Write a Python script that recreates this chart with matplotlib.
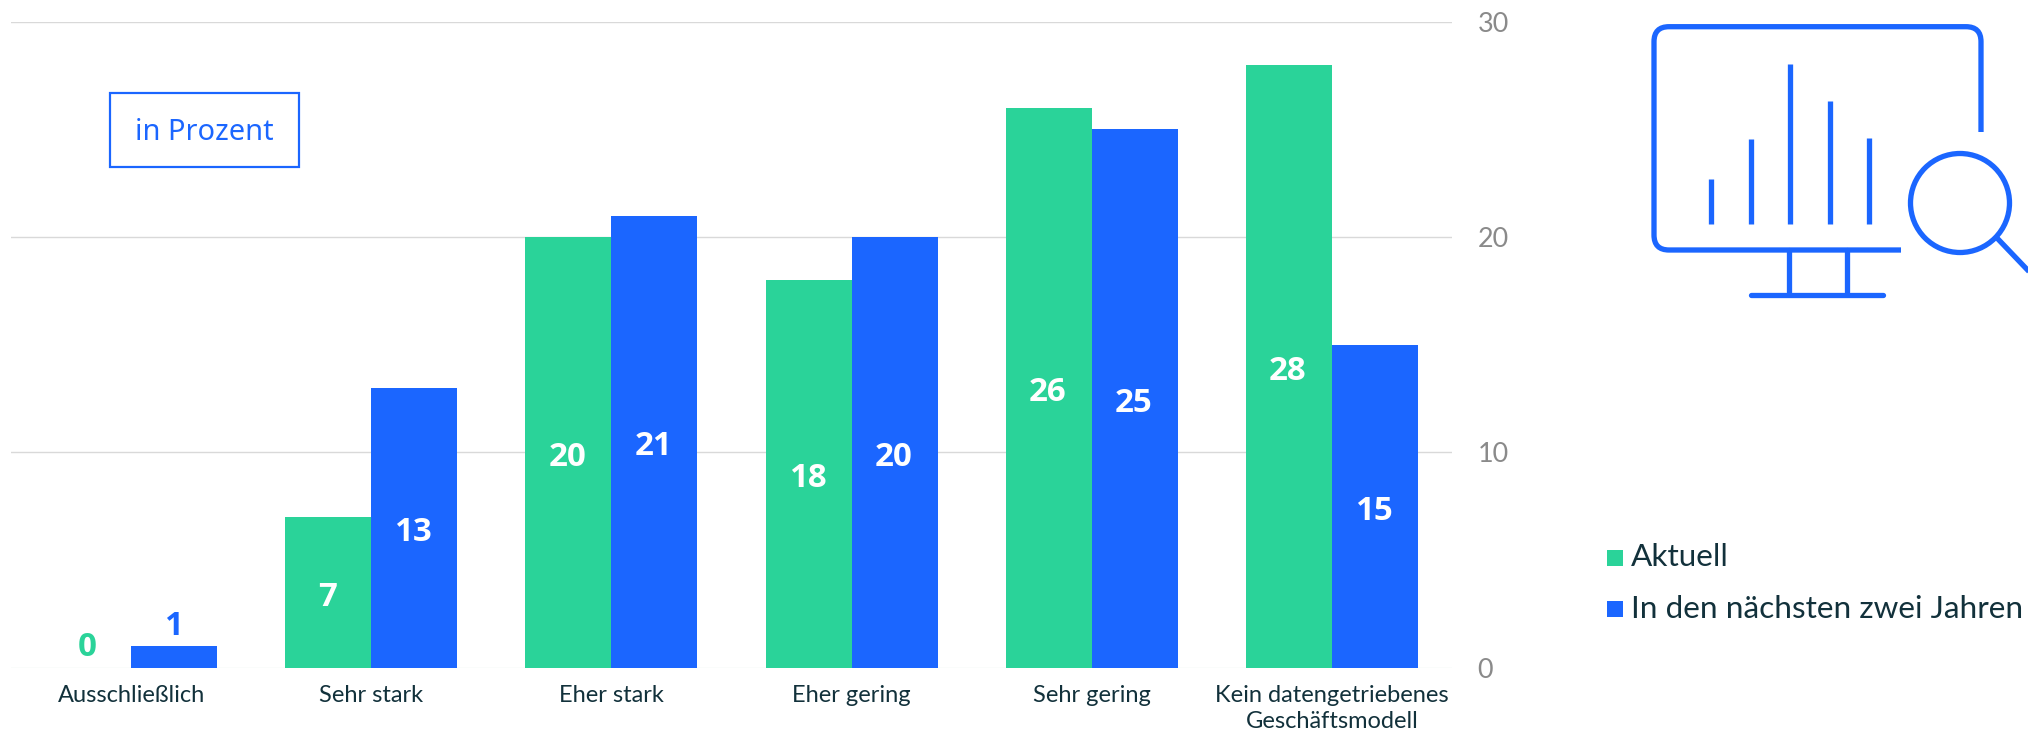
import matplotlib
matplotlib.use("Agg")
import matplotlib.pyplot as plt
from matplotlib.patches import Rectangle, Circle
from matplotlib.path import Path
from matplotlib.patches import PathPatch

categories = ["Ausschließlich", "Sehr stark", "Eher stark", "Eher gering", "Sehr gering",
              "Kein datengetriebenes\nGeschäftsmodell"]
aktuell = [0, 7, 20, 18, 26, 28]
naechste = [1, 13, 21, 20, 25, 15]
series_names = ["Aktuell", "In den nächsten zwei Jahren"]
yticks = [0, 10, 20, 30]

GREEN = "#2AD399"
BLUE = "#1B66FF"
DARK = "#12313B"
GREY = "#8A8A8A"
FONT = "Lato"
W, H = 2028, 731
px = 72 / 100  # points per pixel

plt.rcParams["font.family"] = [FONT, "DejaVu Sans"]
fig = plt.figure(figsize=(W / 100, H / 100), dpi=100, facecolor="white")

# overlay in pixel coordinates for the decorations
ov = fig.add_axes([0, 0, 1, 1], zorder=3)
ov.set_xlim(0, W)
ov.set_ylim(H, 0)
ov.axis("off")
ov.patch.set_alpha(0)

ax = fig.add_axes([11 / W, (H - 667.8) / H, (1452 - 11) / W, (667.8 - 21.8) / H], zorder=2)
ax.patch.set_alpha(0)
x = list(range(len(categories)))
bw = 0.358
ax.bar([i - bw / 2 for i in x], aktuell, bw, color=GREEN, zorder=3)
ax.bar([i + bw / 2 for i in x], naechste, bw, color=BLUE, zorder=3)
ax.set_xlim(-0.5, 5.5)
ax.set_ylim(0, 30)
ax.yaxis.tick_right()
ax.set_yticks(yticks)
ax.set_xticks(x)
ax.set_xticklabels(categories, fontsize=23.6 * px, color=DARK, linespacing=1.3)
ax.tick_params(axis="x", length=0, pad=17 * px)
ax.tick_params(axis="y", length=0, pad=25.5 * px, labelsize=27 * px, labelcolor=GREY)
for s in ax.spines.values():
    s.set_visible(False)
ax.grid(axis="y", color="#D9D9D9", lw=1.4 * px, zorder=0)
ax.set_axisbelow(True)
ax.get_ygridlines()[0].set_color("#E8F3EE")

LABEL_FONT = ["Open Sans", "DejaVu Sans"]
for vals, off, col in ((aktuell, -bw / 2, GREEN), (naechste, bw / 2, BLUE)):
    for i, v in zip(x, vals):
        if v <= 1:
            ax.annotate(str(v), (i + off, v), xytext=(-1 * px, 20 * px), textcoords="offset points",
                        ha="center", va="center", color=col, fontsize=33 * px, fontweight="bold",
                        family=LABEL_FONT)
        else:
            ax.annotate(str(v), (i + off, v / 2), xytext=(-1 * px, -5 * px), textcoords="offset points",
                        ha="center", va="center", color="white",
                        fontsize=33 * px, fontweight="bold", family=LABEL_FONT, zorder=4)

# "in Prozent" box
ov.add_patch(Rectangle((110, 92.5), 189, 74, fill=False, ec=BLUE, lw=2.2 * px))
ov.text(204.5, 133, "in Prozent", color=BLUE, fontsize=29 * px, ha="center", va="center",
        family=["Noto Sans", "DejaVu Sans"])

# legend
for name, col, yc in zip(series_names, (GREEN, BLUE), (558, 609)):
    ov.add_patch(Rectangle((1607, yc - 8), 16, 16, fc=col, ec="none"))
    ov.text(1631, yc - 0.5, name, color=DARK, fontsize=31.5 * px, ha="left", va="center")

# monitor icon
lw = 5.3 * px
kw = dict(color=BLUE, lw=lw, solid_capstyle="butt")
r = 15
L, T, R, B = 1654, 26.7, 1981, 250
verts = [(R, 132), (R, T + r), (R, T), (R - r, T), (L + r, T), (L, T), (L, T + r),
         (L, B - r), (L, B), (L + r, B), (1901, B)]
codes = [Path.MOVETO, Path.LINETO, Path.CURVE3, Path.CURVE3, Path.LINETO, Path.CURVE3, Path.CURVE3,
         Path.LINETO, Path.CURVE3, Path.CURVE3, Path.LINETO]
ov.add_patch(PathPatch(Path(verts, codes), fill=False, ec=BLUE, lw=lw, capstyle="butt"))
for bx, top in zip((1711, 1750.7, 1790, 1829.7, 1869), (179, 139, 64, 101, 138)):
    ov.plot([bx, bx], [top, 224], **kw)
for sx in (1788.7, 1846.7):
    ov.plot([sx, sx], [B, 292], color=BLUE, lw=lw, solid_capstyle="round")
ov.plot([1751, 1883], [295, 295], color=BLUE, lw=lw, solid_capstyle="round")
ov.add_patch(Circle((1960, 203), 49.5, fill=False, ec=BLUE, lw=lw))
ov.plot([1997, 2040], [238, 283], **kw)

fig.savefig("out.png", dpi=100, facecolor="white")
